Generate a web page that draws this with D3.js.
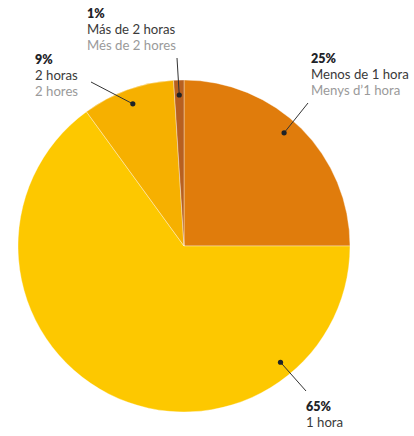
<!DOCTYPE html>
<html>
<head>
<meta charset="utf-8">
<script src="https://cdn.jsdelivr.net/npm/d3@7"></script>
<style>
  html, body { margin: 0; padding: 0; background: #fff; }
  svg { display: block; font-family: Lato, "Open Sans", sans-serif; }
</style>
</head>
<body>
<svg id="chart" width="414" height="436"></svg>
<script>
// Time spent, share of respondents (%)
const shares = [25, 65, 9, 1];
const labelsEs = ["Menos de 1 hora", "1 hora", "2 horas", "Más de 2 horas"];
const labelsCa = ["Menys d’1 hora", "", "2 hores", "Més de 2 hores"];
const colors = ["#e07c0c", "#fdc800", "#f6b000", "#b8601f"];

// Label placement: text anchor (baseline of the first line) and the
// angle (degrees, clockwise from 12 o'clock) where the pointer lands.
const labelPos = [
  { x: 311, y: 63, pointerAngle: 41.5, lineFrom: [308, 103] },
  { x: 306, y: 411, pointerAngle: 140.3, lineFrom: [306, 391] },
  { x: 35, y: 64, pointerAngle: null, lineFrom: [91, 82] },
  { x: 87, y: 18, pointerAngle: null, lineFrom: [177, 58] }
];

const svg = d3.select("#chart");
const cx = 184, cy = 246, radius = 166;
const g = svg.append("g").attr("transform", `translate(${cx},${cy})`);

const pie = d3.pie().sort(null).value(d => d);
const arcs = pie(shares);
const arc = d3.arc().innerRadius(0).outerRadius(radius);

g.selectAll("path.slice")
  .data(arcs)
  .join("path")
  .attr("class", "slice")
  .attr("d", arc)
  .attr("fill", (d, i) => colors[i])
  .attr("stroke", "rgba(255,255,255,0.45)")
  .attr("stroke-width", 0.8);

// Pointer anchor radius
const rDot = radius * 0.91;
function anchor(d, i) {
  const a = labelPos[i].pointerAngle != null
    ? labelPos[i].pointerAngle * Math.PI / 180
    : (d.startAngle + d.endAngle) / 2;
  return [cx + rDot * Math.sin(a), cy - rDot * Math.cos(a)];
}

const ann = svg.append("g");
arcs.forEach((d, i) => {
  const [ax, ay] = anchor(d, i);
  const lp = labelPos[i];
  ann.append("line")
    .attr("x1", lp.lineFrom[0]).attr("y1", lp.lineFrom[1])
    .attr("x2", ax).attr("y2", ay)
    .attr("stroke", "#333").attr("stroke-width", 1);
  ann.append("circle")
    .attr("cx", ax).attr("cy", ay).attr("r", 2.6)
    .attr("fill", "#1e2328");

  ann.append("text").attr("x", lp.x).attr("y", lp.y)
    .attr("font-size", 12.5)
    .attr("font-weight", 800).attr("fill", "#1e2328")
    .text(shares[i] + "%");
  ann.append("text").attr("x", lp.x).attr("y", lp.y + 16)
    .attr("font-size", 13.2)
    .attr("fill", "#3a3a3a")
    .text(labelsEs[i]);
  if (labelsCa[i]) {
    ann.append("text").attr("x", lp.x).attr("y", lp.y + 32)
      .attr("font-size", 13.2)
      .attr("fill", "#9a9a9a")
      .text(labelsCa[i]);
  }
});
</script>
</body>
</html>
